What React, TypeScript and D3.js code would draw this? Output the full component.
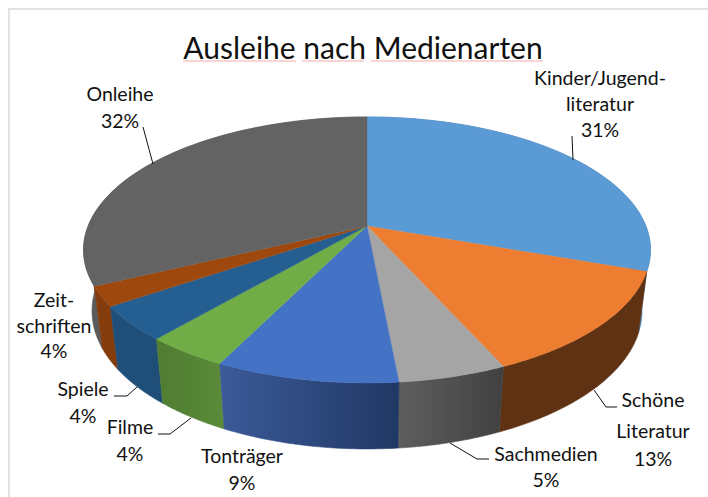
import React from "react";
import * as d3 from "d3";

const W = 708;
const H = 497;

const categories = ["Kinder/Jugendliteratur", "Schöne Literatur", "Sachmedien", "Tonträger", "Filme", "Spiele", "Zeitschriften", "Onleihe"];
const drawnShares = [30.4, 12.9, 5.2, 8.8, 4.0, 4.2, 2.4, 32.1];
const topColors = ["#5b9bd5", "#ed7d31", "#a5a5a5", "#4472c4", "#70ad47", "#255e91", "#9e480e", "#636363"];
const sideStart = ["#4a7fb0", "#5f3213", "#5e5e5e", "#3c5a99", "#4f7c31", "#1f4e79", "#843c0c", "#5a5a5a"];
const sideEnd = ["#4a7fb0", "#5f3213", "#414141", "#203864", "#5a8a3a", "#1f4e79", "#843c0c", "#636363"];

const labels: { lines: string[]; x: number; ys: number[] }[] = [
  { lines: ["Kinder/Jugend-", "literatur", "31%"], x: 600, ys: [85, 111, 137] },
  { lines: ["Schöne", "Literatur", "13%"], x: 653, ys: [407, 438, 466] },
  { lines: ["Sachmedien", "5%"], x: 546, ys: [461, 487] },
  { lines: ["Tonträger", "9%"], x: 242, ys: [463, 490] },
  { lines: ["Filme", "4%"], x: 130, ys: [434, 461] },
  { lines: ["Spiele", "4%"], x: 83, ys: [396, 423] },
  { lines: ["Zeit-", "schriften", "4%"], x: 54, ys: [307, 333, 358] },
  { lines: ["Onleihe", "32%"], x: 120, ys: [101, 128] },
];
const leaders: [number, number][][] = [
  [[572, 136], [573, 160]],
  [[617, 407], [606, 407], [594, 390]],
  [[489, 459], [477, 459], [450, 443]],
  [[114, 396], [127, 396], [137, 387]],
  [[158, 434], [170, 434], [191, 418]],
  [[143, 127], [153, 164]],
];
const squiggles: [number, number][] = [[183, 296], [302, 364], [371, 543]];

// Perspective projection of the pie disc: apex and both ellipses
const cx = 367;
const apexY = 226;
const persp = 0.18;
const scaleX = 278.9;
const scaleY = 128.7;
const topCenterY = 250;
const topRx = 283.5;
const topRy = 133;
const botCenterY = 311;
const botRx = 275;
const botRy = 138;

const projectTop = (theta: number): [number, number] => {
  const u = Math.sin(theta);
  const v = -Math.cos(theta);
  const w = 1 - persp * v;
  return [cx + (scaleX * u) / w, apexY + (scaleY * v) / w];
};
const toBottom = ([x, y]: [number, number]): [number, number] => [
  cx + ((x - cx) * botRx) / topRx,
  botCenterY + ((y - topCenterY) * botRy) / topRy,
];

const pieGen = d3.pie<number>().sort(null).value((d) => d);
const arcs = pieGen(drawnShares);
const line = d3.line();
const arcPoints = (a0: number, a1: number) =>
  d3.range(0, 61).map((i) => projectTop(a0 + ((a1 - a0) * i) / 60));

const slices = arcs.map((a, i) => {
  const top = arcPoints(a.startAngle, a.endAngle);
  const bottom = top.map(toBottom).reverse();
  const mid = (a.startAngle + a.endAngle) / 2;
  return {
    i,
    mid,
    topPath: line([[cx, apexY], ...top])! + "Z",
    sidePath: line([...top, ...bottom])! + "Z",
    x0: Math.min(...top.map((p) => p[0])),
    x1: Math.max(...top.map((p) => p[0])),
  };
});
const sideOrder = [...slices].sort((a, b) => Math.abs(b.mid - Math.PI) - Math.abs(a.mid - Math.PI));

const FONT = "Lato, Carlito, sans-serif";

export default function App() {
  return (
    <svg width={W} height={H} viewBox={`0 0 ${W} ${H}`} style={{ position: "fixed", left: 0, top: 0, background: "#fff" }}>
      <defs>
        {slices.map((s) => (
          <linearGradient key={s.i} id={`side${s.i}`} gradientUnits="userSpaceOnUse" x1={s.x0} x2={s.x1} y1={0} y2={0}>
            <stop offset="0" stopColor={sideStart[s.i]} />
            <stop offset="1" stopColor={sideEnd[s.i]} />
          </linearGradient>
        ))}
      </defs>
      <path d="M708,9H9V497" fill="none" stroke="#e2e2e2" strokeWidth={2} />
      {sideOrder.map((s) => (
        <path key={s.i} d={s.sidePath} fill={`url(#side${s.i})`} stroke={`url(#side${s.i})`} strokeWidth={0.6} />
      ))}
      {slices.map((s) => (
        <path key={s.i} d={s.topPath} fill={topColors[s.i]} stroke={topColors[s.i]} strokeWidth={0.4} />
      ))}
      {leaders.map((pts, i) => (
        <path key={i} d={line(pts)!} fill="none" stroke="#111" strokeWidth={1} />
      ))}
      <text x={363} y={59} textAnchor="middle" fontFamily={FONT} fontSize={30} fill="#111">
        Ausleihe nach Medienarten
      </text>
      {squiggles.map(([a, b], i) => (
        <line key={i} x1={a} x2={b} y1={61} y2={61} stroke="#f5a8a8" strokeWidth={1} />
      ))}
      {labels.map((l) =>
        l.lines.map((t, j) => (
          <text key={t + j} x={l.x} y={l.ys[j]} textAnchor="middle" fontFamily={FONT} fontSize={19.5} fill="#111">
            {t}
          </text>
        ))
      )}
    </svg>
  );
}
